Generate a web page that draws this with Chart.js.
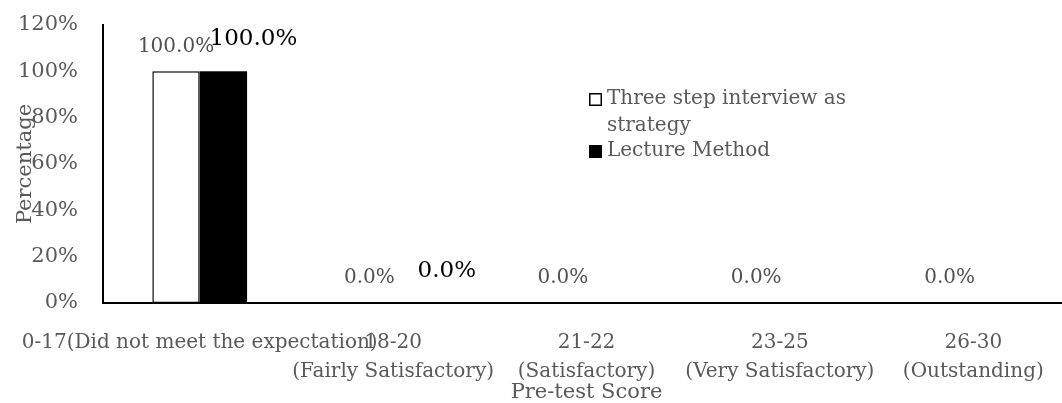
<!DOCTYPE html>
<html>
<head>
<meta charset="utf-8">
<script src="https://cdn.jsdelivr.net/npm/chart.js@4/dist/chart.umd.min.js"></script>
<style>
  html, body { margin: 0; padding: 0; background: #fff; overflow: hidden; }
  #wrap { width: 1070px; height: 403px; }
</style>
</head>
<body>
<div id="wrap"><canvas id="chart" width="1070" height="403"></canvas></div>
<script>
(function() {
    'use strict';

    // data
    const categories = [
        '0-17(Did not meet the expectation)',
        ['18-20', '(Fairly Satisfactory)'],
        ['21-22', '(Satisfactory)'],
        ['23-25', '(Very Satisfactory)'],
        ['26-30', '(Outstanding)']
    ];
    const threeStepValues = [100, 0, 0, 0, 0];
    const lectureValues = [100, 0, 0, 0, 0];
    const threeStepLabelShown = [true, true, true, true, true];
    const lectureLabelShown = [true, true, false, false, false];
    const yTicks = [0, 20, 40, 60, 80, 100, 120];

    const FONT = "'DejaVu Serif', serif";
    const GREY = '#595959';

    // value labels above bars (excel-ish, second series nudged up/right)
    const valueLabels = {
        id: 'valueLabels',
        afterDatasetsDraw(chart) {
            const ctx = chart.ctx;
            const cfg = [
                { shown: threeStepLabelShown, size: 20, color: '#505050', dx: 0, dy: -25 },
                { shown: lectureLabelShown, size: 23, color: '#000', dx: 30, dy: -32 }
            ];
            ctx.save();
            ctx.textAlign = 'center';
            ctx.textBaseline = 'middle';
            chart.data.datasets.forEach((ds, i) => {
                const meta = chart.getDatasetMeta(i);
                const c = cfg[i];
                ctx.font = c.size + 'px ' + FONT;
                ctx.fillStyle = c.color;
                meta.data.forEach((bar, j) => {
                    if (!c.shown[j]) return;
                    ctx.fillText(ds.data[j].toFixed(1) + '%', bar.x + c.dx, bar.y + c.dy);
                });
            });
            ctx.restore();
        }
    };

    // legend with wrapped text, placed inside the plot
    const boxLegend = {
        id: 'boxLegend',
        afterDraw(chart) {
            const ctx = chart.ctx;
            const x = 589, maxW = 250, lineH = 27;
            let y = 99;
            ctx.save();
            ctx.font = '20px ' + FONT;
            ctx.textBaseline = 'middle';
            ctx.textAlign = 'left';
            chart.data.datasets.forEach(ds => {
                ctx.fillStyle = ds.backgroundColor;
                ctx.fillRect(x, y - 6, 13, 13);
                ctx.strokeStyle = '#000';
                ctx.lineWidth = 1.5;
                ctx.strokeRect(x + 0.75, y - 5.25, 11.5, 11.5);
                const words = ds.label.split(' ');
                const lines = [];
                let cur = '';
                words.forEach(w => {
                    const t = cur ? cur + ' ' + w : w;
                    if (ctx.measureText(t).width > maxW && cur) { lines.push(cur); cur = w; }
                    else cur = t;
                });
                lines.push(cur);
                ctx.fillStyle = GREY;
                lines.forEach(l => { ctx.fillText(l, x + 18, y); y += lineH; });
                y -= 2;
            });
            ctx.restore();
        }
    };

    const noPad = s => { s.paddingLeft = 0; s.paddingRight = 0; s.paddingTop = 0; s.paddingBottom = 0; };

    new Chart(document.getElementById('chart'), {
        type: 'bar',
        data: {
            labels: categories,
            datasets: [
                { label: 'Three step interview as strategy', data: threeStepValues, backgroundColor: '#ffffff', borderColor: '#000', borderWidth: 1.5, borderSkipped: false },
                { label: 'Lecture Method', data: lectureValues, backgroundColor: '#000000', borderColor: '#000', borderWidth: 0 }
            ]
        },
        options: {
            responsive: false,
            animation: false,
            layout: { padding: { top: 25, left: 0, right: 0, bottom: 0 } },
            datasets: { bar: { categoryPercentage: 0.49, barPercentage: 1.0 } },
            plugins: { legend: { display: false }, tooltip: { enabled: false } },
            scales: {
                x: {
                    grid: { display: false, drawTicks: false },
                    border: { display: true, color: '#000', width: 2 },
                    ticks: { color: GREY, font: { family: FONT, size: 20, lineHeight: 1.45 }, padding: 25, maxRotation: 0, autoSkip: false },
                    title: { display: true, text: 'Pre-test Score', color: GREY, font: { family: FONT, size: 21, lineHeight: 1 }, padding: { top: 0, bottom: 0 } },
                    afterFit(s) { s.height = 100; noPad(s); }
                },
                y: {
                    min: 0, max: 120,
                    afterBuildTicks(s) { s.ticks = yTicks.map(v => ({ value: v })); },
                    grid: { display: false, drawTicks: false },
                    border: { display: true, color: '#000', width: 2 },
                    ticks: { color: GREY, font: { family: FONT, size: 21 }, padding: 25, callback: v => v + '%' },
                    title: { display: true, text: 'Percentage', color: GREY, font: { family: FONT, size: 21 }, padding: { top: 13, bottom: 0 } },
                    afterFit(s) { s.width = 103; noPad(s); }
                }
            }
        },
        plugins: [valueLabels, boxLegend]
    });
})();
</script>
</body>
</html>
